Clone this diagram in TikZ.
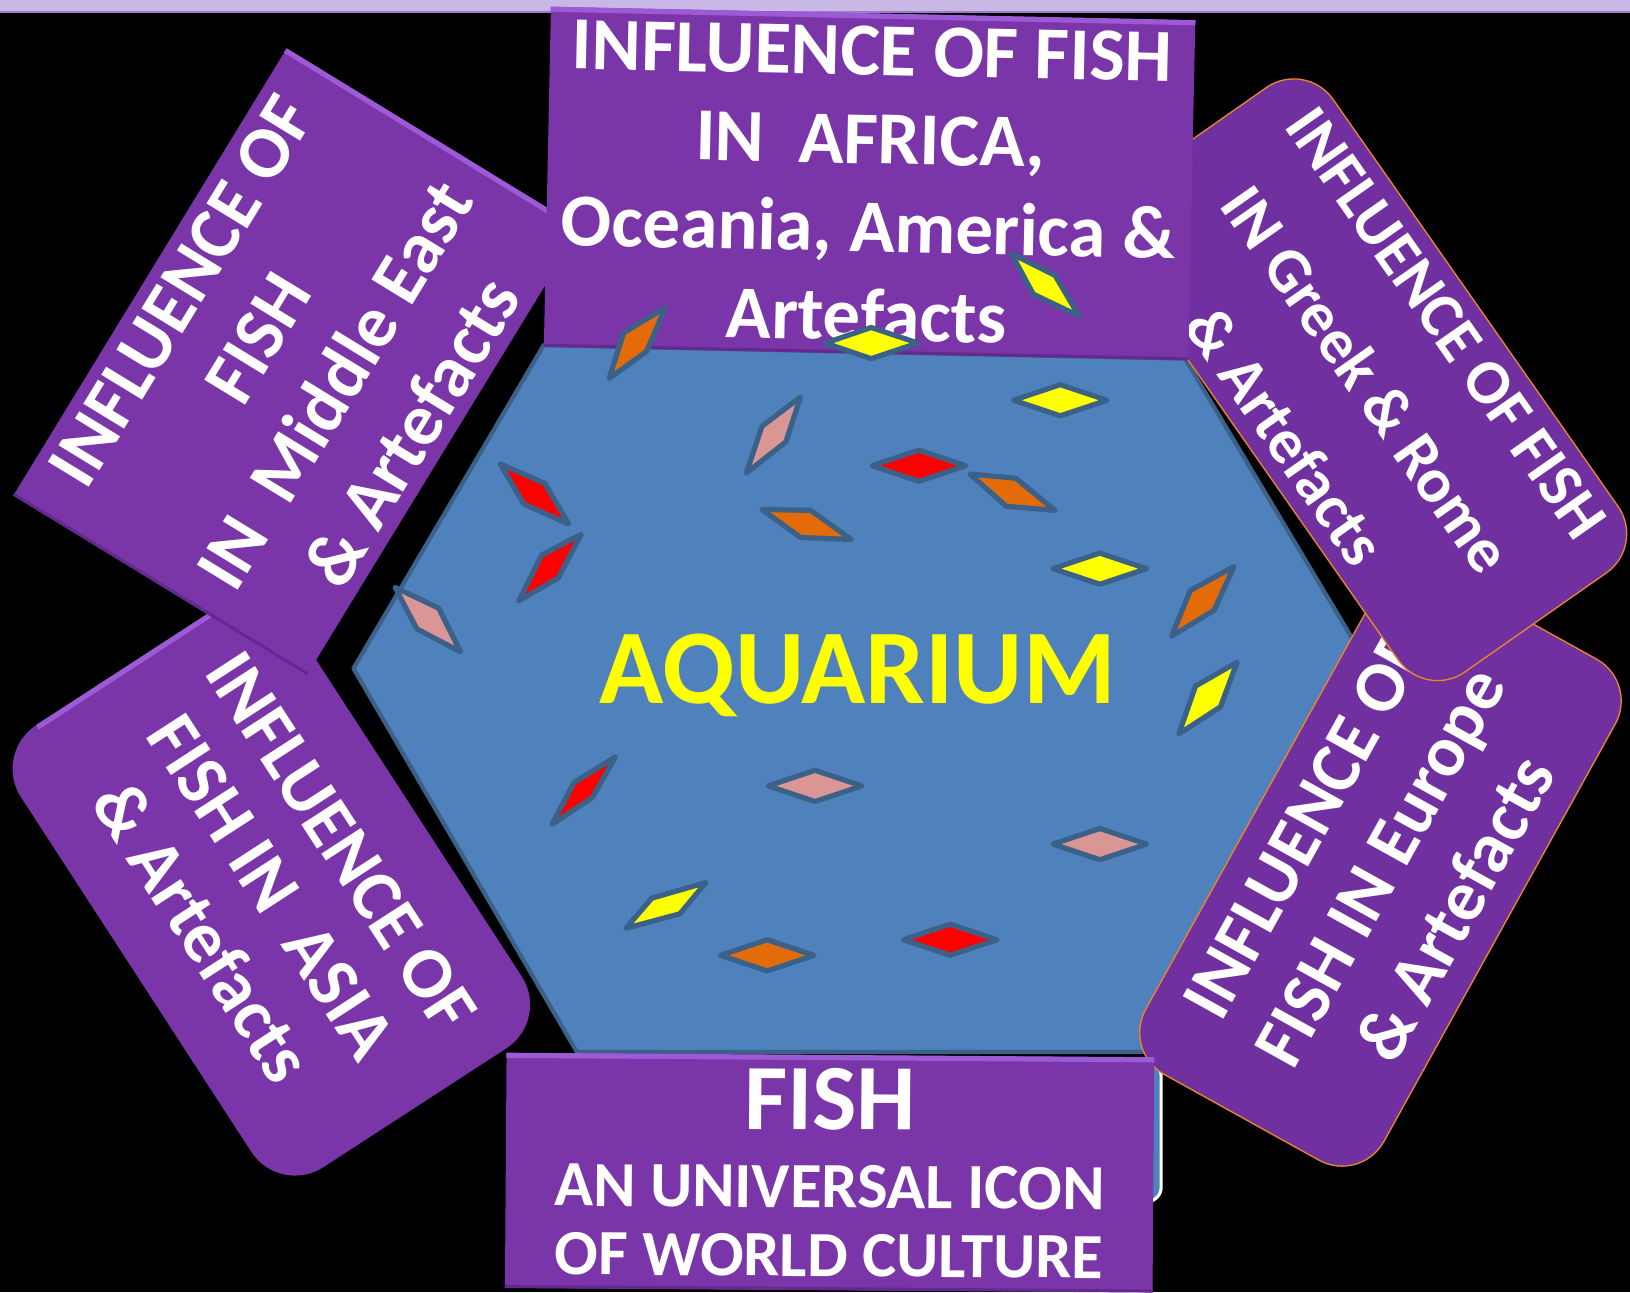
\documentclass[tikz,border=0pt]{standalone}
\usepackage{fontspec}
\setmainfont{Carlito}
\usetikzlibrary{calc}
\definecolor{AQStrip}{HTML}{C9B8E6}
\definecolor{AQStripEdge}{HTML}{9C7CC8}
\definecolor{AQBox}{HTML}{7A35A8}
\definecolor{AQCard}{HTML}{7030A0}
\definecolor{AQLight}{HTML}{9D5AD6}
\definecolor{AQDark}{HTML}{64298F}
\definecolor{AQEdge}{HTML}{E8872A}
\definecolor{AQWater}{HTML}{4F81BD}
\definecolor{AQLine}{HTML}{3B6189}
\definecolor{AQRed}{HTML}{FF0000}
\definecolor{AQYellow}{HTML}{FFFF00}
\definecolor{AQOrange}{HTML}{E36C09}
\definecolor{AQPink}{HTML}{D99694}
\tikzset{
  tank/.style={draw=AQLine,line width=4pt,fill=AQWater,line join=round},
  frame/.style={draw=white,line width=3pt,fill=AQWater,rounded corners=14pt},
  boxflat/.style={fill=AQBox,text=white,inner sep=0pt,align=center},
  boxround/.style={boxflat,rounded corners=50pt},
  cardedge/.style={draw=AQEdge,line width=1.3pt,fill=AQCard,text=white,inner sep=0pt,
                   align=center,rounded corners=46pt},
  bevelup/.style={AQLight,line width=5pt},
  beveldown/.style={AQDark,line width=3pt},
  fish/.style={draw=AQLine,line width=5pt,line join=round},
  fishred/.style={fish,fill=AQRed},
  fishyellow/.style={fish,fill=AQYellow},
  fishorange/.style={fish,fill=AQOrange},
  fishpink/.style={fish,fill=AQPink},
  title/.style={text=AQYellow,font=\fontsize{102}{120}\selectfont\bfseries,inner sep=0pt},
}
\begin{document}
\begin{tikzpicture}[x=1pt,y=-1pt]
    \path[use as bounding box,fill=black] (0,0) rectangle (1568,1243);
    \fill[AQStrip] (0,0) rectangle (1568,11);
    \draw[AQStripEdge,line width=2pt] (0,11.5)--(1568,11.5);

    \node[frame,minimum width=591pt,minimum height=135pt] (frame) at (821.5,1088.5) {};
    \draw[tank] (340,643)--(523,332)--(1140,345)--(1318,643)--(1100,1012)--(555,1012)--cycle;

    \node[boxround,rotate=-57,minimum width=507pt,minimum height=310pt,
          font=\fontsize{70}{80}\selectfont\bfseries] (asia) at (261,853)
      {INFLUENCE OF\\FISH IN\ \ ASIA\\\& Artefacts};
    \draw[bevelup,shorten >=50pt,shorten <=50pt] ($(asia.north west)!2.5pt!(asia.north east)$)--($(asia.south west)!2.5pt!(asia.south east)$);

    \node[boxflat,rotate=58.55,minimum width=504pt,minimum height=331pt,
          font=\fontsize{71}{87}\selectfont\bfseries] (meast) at (285.5,348)
      {INFLUENCE OF\\FISH\\IN\ \ Middle East\\\& Artefacts};
    \draw[bevelup] ($(meast.north east)!2.5pt!(meast.north west)$)--($(meast.south east)!2.5pt!(meast.south west)$);
    \draw[beveldown] ($(meast.north west)!1.5pt!(meast.north east)$)--($(meast.south west)!1.5pt!(meast.south east)$);

    \node[cardedge,rotate=61,minimum width=551pt,minimum height=262pt,
          font=\fontsize{69}{83}\selectfont\bfseries] (europe) at (1327.9,833.8)
      {INFLUENCE OF\\FISH IN Europe\\\& Artefacts};
    \node[cardedge,rotate=-55,minimum width=570pt,minimum height=258pt,
          font=\fontsize{61}{95}\selectfont\bfseries] (greek) at (1313.7,365.3)
      {INFLUENCE OF FISH\\IN Greek \& Rome\\\& Artefacts};

    \node[boxflat,rotate=-1.2,minimum width=620pt,minimum height=327pt,
          font=\fontsize{72}{85}\selectfont\bfseries] (africa) at (836.5,176.5)
      {INFLUENCE OF FISH\\IN\ \ AFRICA,\\Oceania, America \&\\Artefacts};
    \draw[bevelup] ($(africa.north west)!2.5pt!(africa.south west)$)--($(africa.north east)!2.5pt!(africa.south east)$);
    \draw[beveldown] ($(africa.south west)!1.5pt!(africa.north west)$)--($(africa.south east)!1.5pt!(africa.north east)$);

    \node[boxflat,rotate=-0.4,minimum width=623pt,minimum height=226pt,
          font=\fontsize{62}{66}\selectfont\bfseries] (fishbox) at (798,1128)
      {\fontsize{90}{90}\selectfont FISH\\[9pt]AN UNIVERSAL ICON\\OF WORLD CULTURE};
    \draw[bevelup] ($(fishbox.north west)!2.5pt!(fishbox.south west)$)--($(fishbox.north east)!2.5pt!(fishbox.south east)$);
    \draw[beveldown] ($(fishbox.south west)!1.5pt!(fishbox.north west)$)--($(fishbox.south east)!1.5pt!(fishbox.north east)$);

    \draw[fishorange] (640,296)--(600,320)--(586,364)--(622,338)--cycle;
    \draw[fishyellow] (973,244)--(1015,265)--(1038,304)--(994,283)--cycle;
    \draw[fishyellow] (794,330)--(838,315)--(883,330)--(838,345)--cycle;
    \draw[fishyellow] (975,385)--(1020,370)--(1065,385)--(1020,400)--cycle;
    \draw[fishpink] (770,382)--(733,410)--(718,455)--(756,425)--cycle;
    \draw[fishred] (839,448)--(884,433)--(929,448)--(884,463)--cycle;
    \draw[fishorange] (933,456)--(977,460)--(1015,491)--(968,487)--cycle;
    \draw[fishorange] (733,490)--(780,491)--(819,519)--(770,517)--cycle;
    \draw[fishred] (481,446)--(524,465)--(547,504)--(504,485)--cycle;
    \draw[fishred] (559,514)--(521,534)--(499,578)--(537,556)--cycle;
    \draw[fishpink] (380,565)--(422,585)--(443,627)--(401,605)--cycle;
    \draw[fishyellow] (1013,547)--(1058,532)--(1103,547)--(1058,562)--cycle;
    \draw[fishorange] (1187,545)--(1145,568)--(1127,612)--(1168,587)--cycle;
    \draw[fishyellow] (1190,637)--(1150,660)--(1134,706)--(1174,680)--cycle;
    \draw[fishred] (592,728)--(552,753)--(531,793)--(570,767)--cycle;
    \draw[fishpink] (739,756)--(784,741)--(829,756)--(784,771)--cycle;
    \draw[fishpink] (1013,812)--(1058,797)--(1103,812)--(1058,827)--cycle;
    \draw[fishyellow] (679,849)--(627,864)--(602,893)--(654,879)--cycle;
    \draw[fishorange] (693,919)--(738,904)--(783,919)--(738,934)--cycle;
    \draw[fishred] (869,904)--(914,889)--(959,904)--(914,919)--cycle;

    \node[title] (aquarium) at (825,650) {AQUARIUM};
  \end{tikzpicture}
\end{document}
